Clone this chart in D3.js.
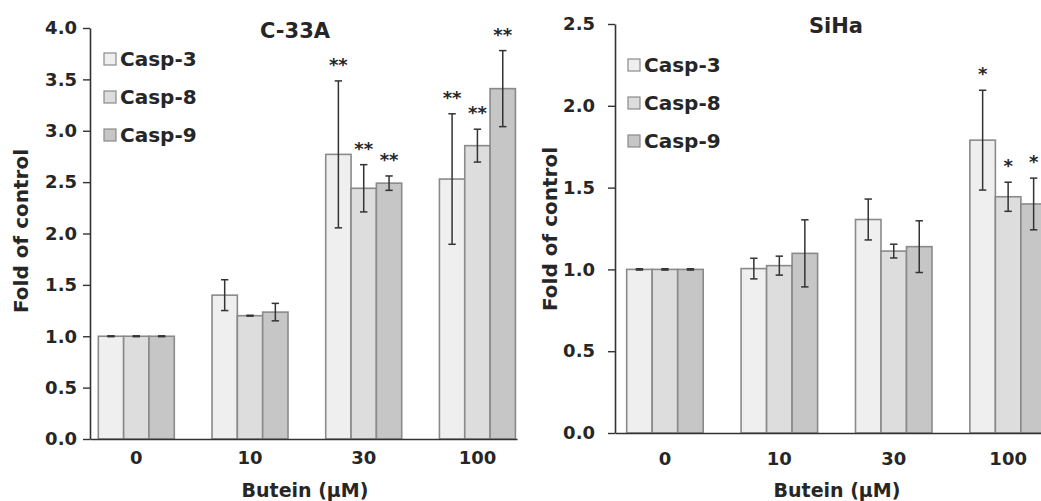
<!DOCTYPE html>
<html>
<head>
<meta charset="utf-8">
<script src="https://cdn.jsdelivr.net/npm/d3@7"></script>
<style>
  html, body { margin: 0; padding: 0; background: #fff; }
  svg { display: block; }
  text { font-family: "DejaVu Sans", sans-serif; font-weight: bold; fill: #262626; }
</style>
</head>
<body>
<svg id="chart" width="1041" height="501"></svg>
<script>
// ---- data ----
const categories = ["0", "10", "30", "100"];
const seriesNames = ["Casp-3", "Casp-8", "Casp-9"];
const seriesColors = ["#efefef", "#dddddd", "#c6c6c6"];

// C-33A
const c33aTitle = "C-33A";
const c33aTicks = [0, 0.5, 1, 1.5, 2, 2.5, 3, 3.5, 4];
const c33aCasp3 = [1.00, 1.40, 2.77, 2.53];
const c33aCasp3Err = [0.004, 0.15, 0.715, 0.635];
const c33aCasp8 = [1.00, 1.20, 2.44, 2.855];
const c33aCasp8Err = [0.004, 0.004, 0.23, 0.16];
const c33aCasp9 = [1.00, 1.235, 2.49, 3.41];
const c33aCasp9Err = [0.004, 0.085, 0.07, 0.37];
const c33aStars3 = ["", "", "**", "**"];
const c33aStars8 = ["", "", "**", "**"];
const c33aStars9 = ["", "", "**", "**"];

// SiHa
const sihaTitle = "SiHa";
const sihaTicks = [0, 0.5, 1, 1.5, 2, 2.5];
const sihaCasp3 = [1.00, 1.005, 1.305, 1.79];
const sihaCasp3Err = [0.004, 0.063, 0.125, 0.305];
const sihaCasp8 = [1.00, 1.023, 1.112, 1.444];
const sihaCasp8Err = [0.004, 0.058, 0.042, 0.089];
const sihaCasp9 = [1.00, 1.098, 1.139, 1.40];
const sihaCasp9Err = [0.004, 0.205, 0.158, 0.158];
const sihaStars3 = ["", "", "", "*"];
const sihaStars8 = ["", "", "", "*"];
const sihaStars9 = ["", "", "", "*"];

const xTitle = "Butein (μM)";
const yTitle = "Fold of control";

const svg = d3.select("#chart");

function drawPanel(p) {
  const g = svg.append("g");
  const x = d3.scaleBand().domain(categories).range([p.x0, p.x1])
    .paddingInner(p.padInner).paddingOuter(p.padOuter).align(p.align);
  const xs = d3.scaleBand().domain(seriesNames).range([0, x.bandwidth()]);
  const y = d3.scaleLinear().domain([0, p.ymax]).range([p.yBottom, p.yTop]);

  const values = [p.v3, p.v8, p.v9];
  const errs = [p.e3, p.e8, p.e9];
  const stars = [p.s3, p.s8, p.s9];

  // bars
  seriesNames.forEach((s, si) => {
    const rows = categories.map((c, ci) => ({c, v: values[si][ci], e: errs[si][ci], st: stars[si][ci]}));
    g.selectAll(null).data(rows).enter().append("rect")
      .attr("x", d => x(d.c) + xs(s))
      .attr("y", d => y(d.v))
      .attr("width", xs.bandwidth())
      .attr("height", d => y(0) - y(d.v))
      .attr("fill", seriesColors[si])
      .attr("stroke", "#8a8a8a")
      .attr("stroke-width", 1.6);
  });

  // error bars + stars
  seriesNames.forEach((s, si) => {
    const rows = categories.map((c, ci) => ({c, v: values[si][ci], e: errs[si][ci], st: stars[si][ci]}));
    const cx = d => x(d.c) + xs(s) + xs.bandwidth() / 2;
    const eg = g.selectAll(null).data(rows).enter().append("g");
    eg.append("line").attr("x1", cx).attr("x2", cx)
      .attr("y1", d => y(d.v + d.e)).attr("y2", d => y(d.v - d.e))
      .attr("stroke", "#333").attr("stroke-width", 1.5);
    [1, -1].forEach(sign => {
      eg.append("line").attr("x1", d => cx(d) - 3.7).attr("x2", d => cx(d) + 3.7)
        .attr("y1", d => y(d.v + sign * d.e)).attr("y2", d => y(d.v + sign * d.e))
        .attr("stroke", "#333").attr("stroke-width", 1.5);
    });
    eg.filter(d => d.st).append("text")
      .attr("x", cx).attr("y", d => y(d.v + d.e) - 10)
      .attr("text-anchor", "middle")
      .style("font-size", "18px")
      .text(d => d.st);
  });

  // y axis
  const ya = g.append("g").attr("transform", `translate(${p.x0},0)`)
    .call(d3.axisLeft(y).tickValues(p.ticks).tickFormat(d3.format(".1f"))
      .tickSize(7).tickSizeOuter(0).tickPadding(p.tickPad));
  ya.select(".domain").attr("stroke", "#333").attr("stroke-width", 1.6);
  ya.selectAll(".tick line").attr("stroke", "#333").attr("stroke-width", 1.4);
  ya.selectAll(".tick text").style("font-size", "18px").attr("fill", "#262626")
    .style("font-family", "DejaVu Sans").style("font-weight", "bold");

  // x axis
  const xa = g.append("g").attr("transform", `translate(0,${p.yBottom})`)
    .call(d3.axisBottom(x).tickSize(0).tickSizeOuter(0).tickPadding(p.xPad));
  xa.select(".domain").attr("stroke", "#333").attr("stroke-width", 1.6);
  xa.selectAll(".tick text").style("font-size", "18px").attr("fill", "#262626")
    .style("font-family", "DejaVu Sans").style("font-weight", "bold")
    .attr("dy", "0.71em");

  // titles
  g.append("text").attr("x", p.titleX).attr("y", p.titleY)
    .attr("text-anchor", "middle").style("font-size", "21px").text(p.title);
  g.append("text").attr("x", p.xTitleX).attr("y", 497)
    .attr("text-anchor", "middle").style("font-size", "19px").text(xTitle);
  g.append("text")
    .attr("transform", `translate(${p.yTitleX},${p.yTitleY}) rotate(-90)`)
    .attr("text-anchor", "middle").style("font-size", "20px").text(yTitle);

  // legend
  const lg = g.append("g").selectAll(null).data(seriesNames).enter().append("g")
    .attr("transform", (d, i) => `translate(${p.legX},${p.legY + i * 38})`);
  lg.append("rect").attr("x", 0).attr("y", -6).attr("width", 12).attr("height", 12)
    .attr("fill", (d, i) => seriesColors[i]).attr("stroke", "#8a8a8a").attr("stroke-width", 1.2);
  lg.append("text").attr("x", 16).attr("y", 7).style("font-size", "20px").text(d => d);
}

drawPanel({
  x0: 90, x1: 517, padInner: 0.3316, padOuter: 0.0435, align: 0.84,
  yTop: 28, yBottom: 439, ymax: 4, ticks: c33aTicks, tickPad: 6, xPad: 12,
  v3: c33aCasp3, v8: c33aCasp8, v9: c33aCasp9,
  e3: c33aCasp3Err, e8: c33aCasp8Err, e9: c33aCasp9Err,
  s3: c33aStars3, s8: c33aStars8, s9: c33aStars9,
  title: c33aTitle, titleX: 295, titleY: 38,
  xTitleX: 305, yTitleX: 28, yTitleY: 231,
  legX: 104, legY: 59
});

drawPanel({
  x0: 615, x1: 1047, padInner: 0.3313, padOuter: 0.0538, align: 0.95,
  yTop: 24, yBottom: 433, ymax: 2.5, ticks: sihaTicks, tickPad: 13, xPad: 19,
  v3: sihaCasp3, v8: sihaCasp8, v9: sihaCasp9,
  e3: sihaCasp3Err, e8: sihaCasp8Err, e9: sihaCasp9Err,
  s3: sihaStars3, s8: sihaStars8, s9: sihaStars9,
  title: sihaTitle, titleX: 836, titleY: 33,
  xTitleX: 837, yTitleX: 557, yTitleY: 229,
  legX: 628, legY: 65
});
</script>
</body>
</html>
